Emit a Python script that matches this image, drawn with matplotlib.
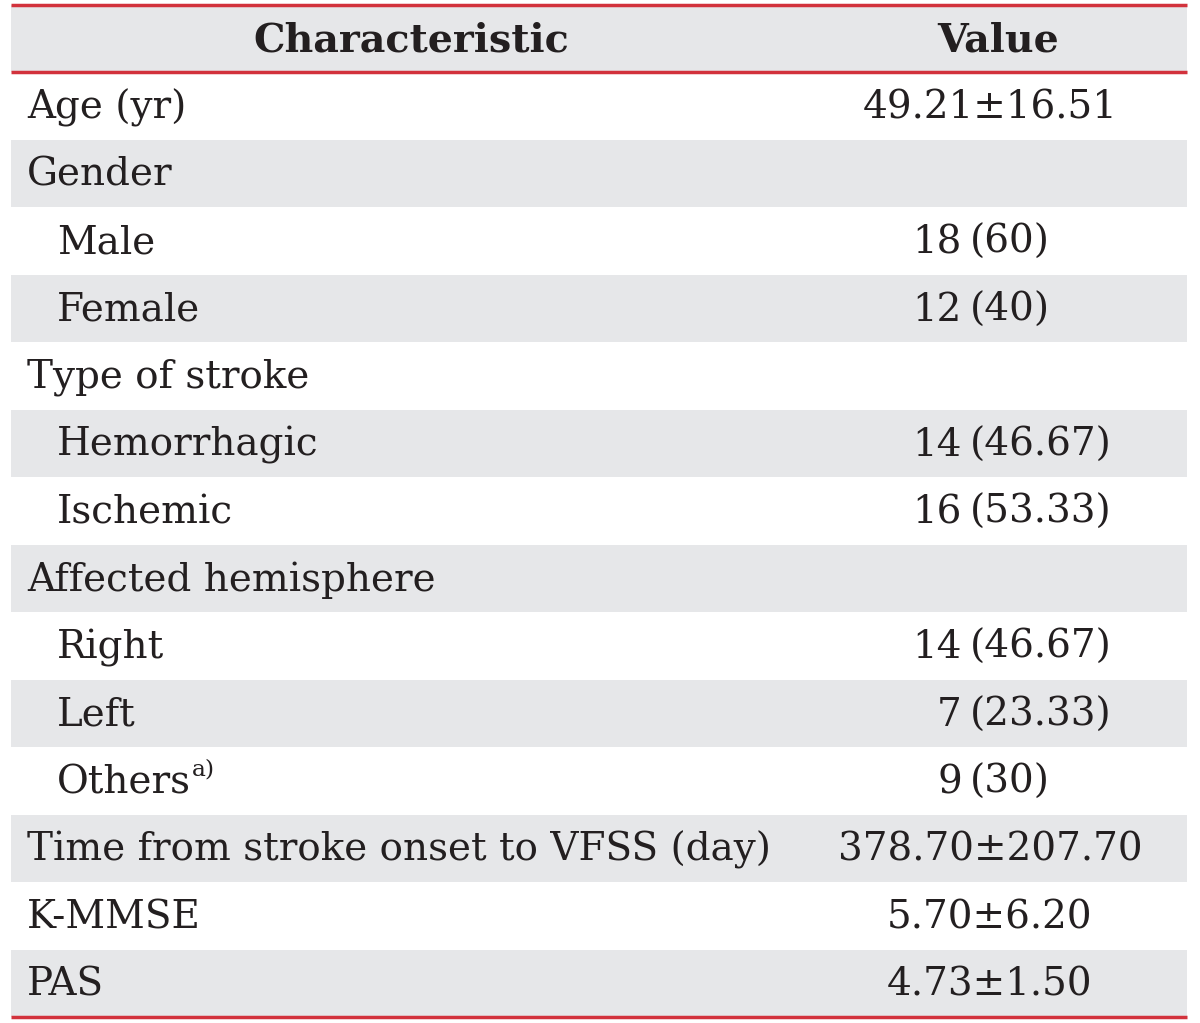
import matplotlib.pyplot as plt

labels = ["Age (yr)", "Gender", "Male", "Female", "Type of stroke", "Hemorrhagic",
          "Ischemic", "Affected hemisphere", "Right", "Left", "Others",
          "Time from stroke onset to VFSS (day)", "K-MMSE", "PAS"]
indent = [0, 0, 1, 1, 0, 1, 1, 0, 1, 1, 1, 0, 0, 0]
footnote = ["", "", "", "", "", "", "", "", "", "", "a)", "", "", ""]
counts = ["", "", "18", "12", "", "14", "16", "", "14", "7", "9", "", "", ""]
percents = ["", "", "(60)", "(40)", "", "(46.67)", "(53.33)", "", "(46.67)", "(23.33)", "(30)", "", "", ""]
mean_sd = ["49.21\u00b116.51", "", "", "", "", "", "", "", "", "", "",
           "378.70\u00b1207.70", "5.70\u00b16.20", "4.73\u00b11.50"]
headers = ["Characteristic", "Value"]

INK = "#231f20"
GREY = "#e6e7e9"
RED = "#d2323c"
FONT = "DejaVu Serif"
FS = 28

fig = plt.figure(figsize=(12, 10.23), dpi=100)
ax = fig.add_axes([0, 0, 1, 1])
ax.set_xlim(0, 1200)
ax.set_ylim(1023, 0)
ax.axis("off")

top = 5
head_h = 67
row_h = 67.5
left, right = 11, 1187

# header band
ax.barh(top + head_h / 2, right - left, height=head_h, left=left, color=GREY, lw=0)
ax.text(411, top + head_h / 2 + 2, headers[0], ha="center", va="center",
        fontsize=FS + 0.5, fontweight="bold", family=FONT, color=INK)
ax.text(998, top + head_h / 2 + 2, headers[1], ha="center", va="center",
        fontsize=FS + 0.5, fontweight="bold", family=FONT, color=INK)

y0 = top + head_h
for i, lab in enumerate(labels):
    yc = y0 + row_h * (i + 0.5)
    if i % 2 == 1:
        ax.barh(yc, right - left, height=row_h - 1, left=left, color=GREY, lw=0)
    t = ax.text(27 + 30 * indent[i], yc + 2, lab, ha="left", va="center",
                fontsize=FS, family=FONT, color=INK)
    if footnote[i]:
        # superscript goes right after the label
        fig.canvas.draw()
        xe = t.get_window_extent().x1
        fig.text((xe + 1) / 1200, 1 - (yc - 11) / 1023, footnote[i], ha="left", va="center",
                 fontsize=FS * 0.6, family=FONT, color=INK)
    if counts[i]:
        ax.text(962, yc + 2, counts[i], ha="right", va="center",
                fontsize=FS, family=FONT, color=INK)
        ax.text(970, yc + 2, percents[i], ha="left", va="center",
                fontsize=FS, family=FONT, color=INK)
    if mean_sd[i]:
        ax.text(990, yc + 2, mean_sd[i], ha="center", va="center",
                fontsize=FS, family=FONT, color=INK)

y_end = y0 + row_h * len(labels)
for y in (top, top + head_h, y_end):
    ax.plot([left, right], [y, y], color=RED, lw=2.5, solid_capstyle="butt")

fig.savefig("out.png", dpi=100, facecolor="white")
